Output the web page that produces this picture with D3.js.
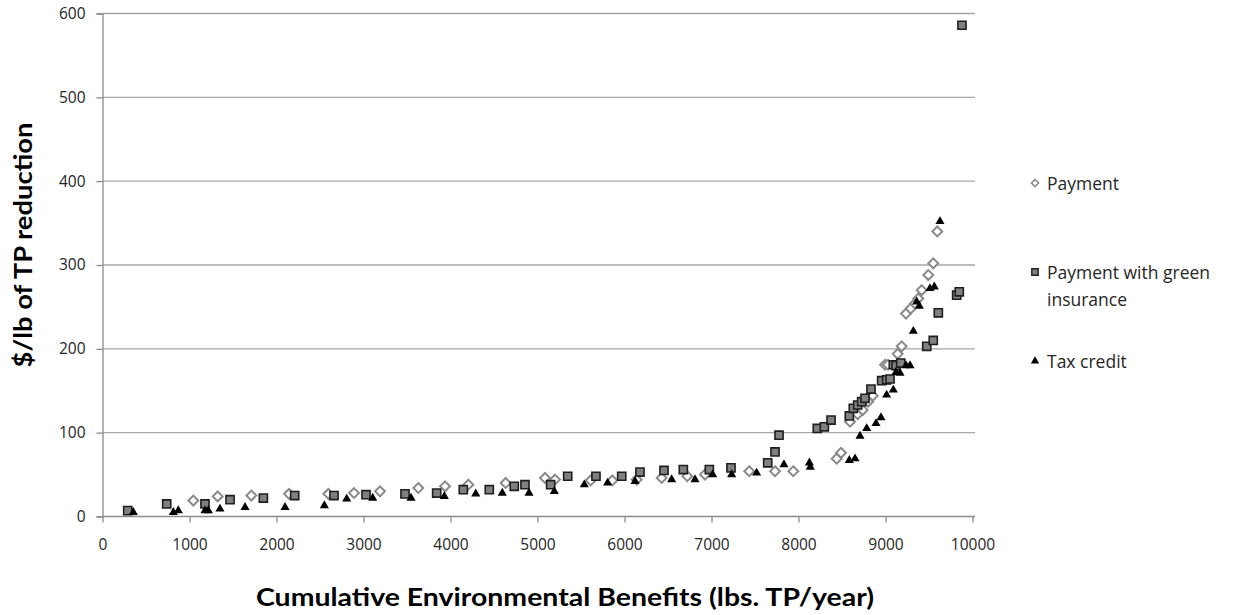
<!DOCTYPE html>
<html>
<head>
<meta charset="utf-8">
<script src="https://cdn.jsdelivr.net/npm/d3@7"></script>
<style>
  body { margin: 0; background: #fff; }
  svg { display: block; }
  text { font-family: "Open Sans", "Liberation Sans", sans-serif; }
</style>
</head>
<body>
<svg id="chart" width="1233" height="615"></svg>
<script>
// Cumulative TP reduction (lbs/year) vs. cost per pound, three policy scenarios
const paymentX = [1044,1324,1711,2144,2596,2891,3190,3630,3937,4205,4634,5086,5201,5611,5860,6140,6427,6722,6925,7434,7730,7940,8439,8489,8592,8680,8738,8800,8853,8994,9028,9140,9186,9236,9289,9339,9377,9416,9492,9549,9595];
const paymentY = [19,24,25,27,27,28,30,34,36,38,40,46,44,43,43,44,46,48,50,54,54,54,69,76,113,122,127,137,144,181,181,194,203,242,248,254,260,270,288,302,340];

const insuranceX = [290,738,1178,1466,1849,2209,2661,3029,3477,3841,4147,4446,4733,4856,5151,5347,5672,5968,6178,6454,6676,6975,7224,7646,7730,7776,8216,8297,8374,8584,8630,8680,8726,8764,8833,8956,9013,9052,9090,9121,9175,9474,9549,9607,9818,9848,9879];
const insuranceY = [7,15,15,20,22,25,25,26,27,28,32,32,36,38,38,48,48,48,53,55,56,56,58,64,77,97,105,107,115,120,129,133,137,141,152,162,163,164,181,180,183,203,210,243,264,268,586];

const taxX = [354,814,871,1178,1216,1350,1638,2098,2550,2807,3106,3546,3929,4290,4595,4902,5193,5538,5806,6121,6542,6810,7013,7232,7519,7833,8125,8135,8584,8650,8707,8784,8891,8948,9013,9090,9120,9167,9236,9282,9320,9358,9389,9511,9561,9626];
const taxY = [5,5,7,7,7,9,11,11,13,21,22,22,24,27,28,28,30,38,40,42,44,44,50,50,52,62,64,59,67,69,96,105,111,118,145,151,172,171,180,180,221,256,251,272,274,352];

const xTicks = [0,1000,2000,3000,4000,5000,6000,7000,8000,9000,10000];
const yTicks = [0,100,200,300,400,500,600];

const svg = d3.select("#chart");
const x = d3.scaleLinear().domain([0, 10000]).range([102.5, 972.5]);
const y = d3.scaleLinear().domain([0, 600]).range([516.5, 13.5]);

// horizontal gridlines
svg.append("g")
  .selectAll("line")
  .data(yTicks.filter(d => d > 0))
  .join("line")
  .attr("x1", x(0)).attr("x2", 975)
  .attr("y1", d => y(d)).attr("y2", d => y(d))
  .attr("stroke", "#a6a6a6").attr("stroke-width", 1.3);

// axes
const xAxis = svg.append("g")
  .attr("transform", `translate(0,${y(0)})`)
  .call(d3.axisBottom(x).tickValues(xTicks).tickSize(6).tickPadding(16).tickFormat(d3.format("d")));
const yAxis = svg.append("g")
  .attr("transform", `translate(${x(0)},0)`)
  .call(d3.axisLeft(y).tickValues(yTicks).tickSize(6).tickPadding(11).tickFormat(d3.format("d")));

[xAxis, yAxis].forEach(g => {
  g.select(".domain").attr("stroke", "#8c8c8c").attr("stroke-width", 1.3);
  g.selectAll(".tick line").attr("stroke", "#8c8c8c").attr("stroke-width", 1.3);
  g.selectAll(".tick text")
    .attr("fill", "#262626")
    .style("font-family", "'Open Sans', sans-serif")
    .style("font-size", "15.5px");
});
xAxis.select(".domain").attr("d", `M${x(0)},0H975`);

// markers
const diamond = d3.symbol().type(d3.symbolDiamond2).size(62);
const square = d3.symbol().type(d3.symbolSquare2).size(84);
const triangle = d3.symbol().type(d3.symbolTriangle).size(36);

function toPoints(xs, ys) { return xs.map((v, i) => [v, ys[i]]); }

svg.append("g").selectAll("path")
  .data(toPoints(paymentX, paymentY))
  .join("path")
  .attr("d", diamond)
  .attr("transform", d => `translate(${x(d[0])},${y(d[1])})`)
  .attr("fill", "#ffffff").attr("stroke", "#8a8a8a").attr("stroke-width", 2);

svg.append("g").selectAll("path")
  .data(toPoints(insuranceX, insuranceY))
  .join("path")
  .attr("d", square)
  .attr("transform", d => `translate(${x(d[0])},${y(d[1])})`)
  .attr("fill", "#808080").attr("stroke", "#1e1e1e").attr("stroke-width", 1.6);

svg.append("g").selectAll("path")
  .data(toPoints(taxX, taxY))
  .join("path")
  .attr("d", triangle)
  .attr("transform", d => `translate(${x(d[0])},${y(d[1])})`)
  .attr("fill", "#000000");

// legend
const legend = svg.append("g").attr("transform", "translate(1035,0)");
const legendRows = [
  { type: d3.symbolDiamond2, fill: "#ffffff", stroke: "#8a8a8a", sw: 1.6, cy: 183, lines: ["Payment"], size: 32 },
  { type: d3.symbolSquare2, fill: "#808080", stroke: "#1e1e1e", sw: 1.4, cy: 272, lines: ["Payment with green", "insurance"], size: 52 },
  { type: d3.symbolTriangle, fill: "#000000", stroke: "none", sw: 0, cy: 361, lines: ["Tax credit"], size: 30 }
];
legendRows.forEach(r => {
  legend.append("path")
    .attr("d", d3.symbol().type(r.type).size(r.size))
    .attr("transform", `translate(0,${r.cy})`)
    .attr("fill", r.fill).attr("stroke", r.stroke).attr("stroke-width", r.sw);
  const t = legend.append("text")
    .attr("x", 12).attr("y", r.cy + 6.5)
    .attr("fill", "#262626")
    .style("font-size", "17.5px");
  r.lines.forEach((ln, j) => {
    t.append("tspan").attr("x", 12).attr("dy", j === 0 ? 0 : 27).text(ln);
  });
});

// axis titles
svg.append("text")
  .attr("x", 565).attr("y", 606)
  .attr("text-anchor", "middle")
  .attr("textLength", 618)
  .attr("lengthAdjust", "spacingAndGlyphs")
  .attr("fill", "#000")
  .style("font-family", "Lato, 'Open Sans', sans-serif")
  .style("font-weight", "bold")
  .style("font-size", "25px")
  .text("Cumulative Environmental Benefits (lbs. TP/year)");

svg.append("text")
  .attr("transform", "translate(32,245) rotate(-90)")
  .attr("text-anchor", "middle")
  .attr("textLength", 245)
  .attr("lengthAdjust", "spacingAndGlyphs")
  .attr("fill", "#000")
  .style("font-family", "Lato, 'Open Sans', sans-serif")
  .style("font-weight", "bold")
  .style("font-size", "25px")
  .text("$/lb of TP reduction");
</script>
</body>
</html>
